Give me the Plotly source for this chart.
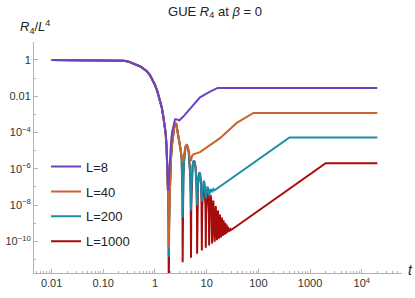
import plotly.graph_objects as go

# ---- data (t, log10 of R4/L^4) ----
early_points = [
    (0.01, 0), (0.02, 0), (0.05, 0), (0.1, -0.005), (0.15, -0.01), (0.2, -0.02),
    (0.25, -0.04), (0.3, -0.08), (0.375, -0.18), (0.45, -0.27), (0.52, -0.36),
    (0.586, -0.46), (0.7, -0.64), (0.8, -0.83), (0.9, -1.08), (1.0, -1.38),
    (1.12, -1.76), (1.25, -2.2), (1.36, -2.65), (1.45, -3.12), (1.54, -3.55),
    (1.61, -4.05), (1.67, -4.7), (1.72, -5.5),
]

L8_points = [
    (1.76, -6.3), (1.8, -7.2), (1.86, -6.5), (1.95, -5.4), (2.05, -4.5),
    (2.15, -3.95), (2.28, -3.55), (2.44, -3.27), (2.7, -3.28), (2.95, -3.34),
    (3.53, -3.12), (5.51, -2.48), (7.43, -2.06), (11.6, -1.75), (16.3, -1.54),
    (20000, -1.54),
]

L40_points = [
    (1.76, -6.3), (1.8, -7.6), (1.83, -9.0), (1.85, -10.36), (1.88, -9.0),
    (1.92, -7.6), (1.97, -6.5), (2.05, -5.3), (2.15, -4.6), (2.25, -4.1),
    (2.38, -3.65), (2.5, -3.47), (2.6, -3.55), (2.7, -3.86), (2.95, -4.41),
    (3.14, -4.96), (3.28, -5.42), (3.36, -5.58), (3.43, -5.62), (3.53, -5.5),
    (3.62, -5.3), (3.75, -5.0), (3.9, -4.76), (4.1, -4.65), (4.3, -4.76),
    (4.5, -5.0), (4.67, -5.35), (4.8, -5.5), (4.98, -5.55), (5.2, -5.3),
    (5.5, -5.2), (7.43, -5.08), (18.1, -4.31), (38.2, -3.47), (80, -2.92),
    (20000, -2.92),
]

L200_points = [
    (1.76, -6.3), (1.8, -7.6), (1.83, -9.0), (1.85, -10.85), (1.88, -9.0),
    (1.92, -7.6), (1.97, -6.5), (2.05, -5.3), (2.15, -4.6), (2.25, -4.1),
    (2.38, -3.65), (2.5, -3.47), (2.6, -3.55), (2.7, -3.86), (2.95, -4.41),
    (3.14, -4.96), (3.28, -5.42), (3.36, -6.3), (3.4, -7.5), (3.43, -8.7),
    (3.47, -7.5), (3.53, -6.5), (3.62, -5.7), (3.75, -5.1), (3.9, -4.8),
    (4.1, -4.68), (4.3, -4.8), (4.5, -5.1), (4.67, -5.6), (4.8, -6.3),
    (4.9, -7.3), (4.95, -7.95), (4.98, -8.3), (5.03, -7.75), (5.1, -6.95),
    (5.2, -6.3), (5.35, -5.85), (5.5, -5.62), (5.7, -5.55), (5.9, -5.65),
    (6.1, -5.95), (6.3, -6.55), (6.43, -7.3), (6.5, -7.8), (6.53, -8.0),
    (6.58, -7.9), (6.65, -7.45), (6.8, -6.75), (7.0, -6.33), (7.25, -6.18),
    (7.5, -6.33), (7.75, -6.75), (7.93, -7.4), (8.02, -7.7), (8.07, -7.8),
    (8.13, -7.7), (8.22, -7.45), (8.4, -7.0), (8.6, -6.75), (8.8, -6.65),
    (9.05, -6.8), (9.3, -7.15), (9.47, -7.5), (9.55, -7.6), (9.6, -7.62),
    (9.76, -7.55), (9.95, -7.3), (10.15, -7.05), (10.35, -6.97), (10.6, -7.06),
    (10.85, -7.29), (11.02, -7.45), (11.15, -7.48), (11.35, -7.41),
    (11.55, -7.27), (11.9, -7.11), (12.25, -7.19), (12.5, -7.27), (12.7, -7.28),
    (13.47, -7.11), (14.25, -7.18), (400, -4.27), (20000, -4.27),
]

L1000_points = [
    (1.76, -6.3), (1.8, -7.6), (1.83, -9.0), (1.85, -13.0), (1.88, -9.0),
    (1.92, -7.6), (1.97, -6.5), (2.05, -5.3), (2.15, -4.6), (2.25, -4.1),
    (2.38, -3.65), (2.5, -3.47), (2.6, -3.55), (2.7, -3.86), (2.95, -4.41),
    (3.14, -4.96), (3.28, -5.42), (3.36, -6.3), (3.4, -7.5), (3.43, -11.15),
    (3.47, -7.5), (3.53, -6.5), (3.62, -5.7), (3.75, -5.1), (3.9, -4.8),
    (4.1, -4.68), (4.3, -4.8), (4.5, -5.1), (4.67, -5.6), (4.8, -6.3),
    (4.9, -7.3), (4.95, -8.5), (4.98, -10.9), (5.03, -8.0), (5.1, -7.0),
    (5.2, -6.3), (5.35, -5.85), (5.5, -5.62), (5.7, -5.55), (5.9, -5.65),
    (6.1, -5.95), (6.3, -6.6), (6.43, -7.5), (6.5, -8.5), (6.53, -10.68),
    (6.58, -8.6), (6.65, -7.7), (6.8, -6.8), (7.0, -6.35), (7.25, -6.2),
    (7.5, -6.35), (7.75, -6.8), (7.93, -7.7), (8.02, -8.6), (8.07, -10.5),
    (8.13, -9.0), (8.22, -8.0), (8.4, -7.2), (8.6, -6.82), (8.8, -6.7),
    (9.05, -6.85), (9.3, -7.3), (9.47, -8.1), (9.55, -9.0), (9.6, -10.35),
    (9.66, -9.4), (9.76, -8.4), (9.95, -7.6), (10.15, -7.2), (10.35, -7.1),
    (10.6, -7.25), (10.85, -7.7), (11.02, -8.5), (11.1, -9.4), (11.15, -10.22),
    (11.22, -9.6), (11.35, -8.5), (11.55, -7.8), (11.9, -7.45), (12.25, -7.75),
    (12.5, -8.5), (12.64, -9.5), (12.7, -10.12), (13.47, -7.75), (14.25, -10.02),
    (15.02, -8.05), (15.8, -9.93), (16.57, -8.3), (17.35, -9.85), (18.12, -8.52),
    (18.9, -9.78), (19.67, -8.68), (20.45, -9.7), (21.22, -8.83), (22.0, -9.64),
    (22.77, -8.97), (23.55, -9.58), (24.32, -9.07), (25.1, -9.52), (25.87, -9.2),
    (26.65, -9.47), (27.42, -9.28), (28.2, -9.42), (28.97, -9.33), (29.75, -9.37),
    (2000, -5.69), (20000, -5.69),
]

series_names = ["L=8", "L=40", "L=200", "L=1000"]
series_colors = ["#6c44c0", "#c9652d", "#1b8ea6", "#a80b0b"]
series_points = [L8_points, L40_points, L200_points, L1000_points]

x_tickvals = [0.01, 0.1, 1, 10, 100, 1000, 10000]
x_ticktext = ["0.01", "0.10", "1", "10", "100", "1000", "10<sup>4</sup>"]
y_tickvals = [1, 1e-2, 1e-4, 1e-6, 1e-8, 1e-10]
y_ticktext = ["1", "0.01", "10<sup>\u22124</sup>", "10<sup>\u22126</sup>",
              "10<sup>\u22128</sup>", "10<sup>\u221210</sup>"]

FONT = "Liberation Sans, Arial, sans-serif"

fig = go.Figure()
# draw L=1000 first so that L=8 ends on top; legend ranked L=8 first
entries = list(zip(series_names, series_colors, series_points))
for rank, (name, color, pts) in reversed(list(enumerate(entries))):
    allpts = early_points + pts
    t = [p[0] for p in allpts]
    y = [10 ** p[1] for p in allpts]
    fig.add_trace(go.Scatter(x=t, y=y, mode="lines", name=name, legendgroup=name,
                             legendrank=rank + 1, line=dict(color=color, width=2)))

axis_color = "#b3b3b3"
fig.update_xaxes(type="log", range=[-2.34, 4.778], tickvals=x_tickvals, ticktext=x_ticktext,
                 automargin=False,
                 showgrid=False, zeroline=False, showline=True, linecolor=axis_color,
                 linewidth=1, ticks="inside", ticklen=4, tickcolor=axis_color,
                 tickfont=dict(family=FONT, size=11, color="#333"),
                 minor=dict(ticks="inside", ticklen=2, tickcolor=axis_color, dtick="D1",
                            showgrid=False))
fig.update_yaxes(type="log", range=[-11.74, 0.99], tickvals=y_tickvals, ticktext=y_ticktext,
                 automargin=False,
                 showgrid=False, zeroline=False, showline=True, linecolor=axis_color,
                 linewidth=1, ticks="inside", ticklen=4, tickcolor=axis_color,
                 tickfont=dict(family=FONT, size=11, color="#333"),
                 minor=dict(ticks="inside", ticklen=2, tickcolor=axis_color, dtick=1,
                            showgrid=False))

fig.update_layout(
    width=415, height=298,
    margin=dict(l=34, r=13, t=42, b=25, autoexpand=False),
    paper_bgcolor="white", plot_bgcolor="white",
    hovermode=False,
    font=dict(family=FONT, color="#222"),
    title=dict(text="GUE <i>R</i><sub>4</sub> at <i>\u03b2</i> = 0", x=0.518, xref="container",
               y=0.963, yref="container", xanchor="center", yanchor="middle",
               font=dict(family=FONT, size=13, color="#222")),
    legend=dict(x=0.0327, y=0.5255, xanchor="left", yanchor="top", traceorder="grouped",
                tracegroupgap=5, font=dict(family=FONT, size=13, color="#222"),
                bgcolor="rgba(0,0,0,0)"),
    showlegend=True,
    annotations=[
        dict(text="<i>R</i><sub>4</sub>/<i>L</i><sup>4</sup>", xref="paper", yref="paper",
             x=0.003, y=1.065, xanchor="center", yanchor="middle", showarrow=False,
             font=dict(family=FONT, size=13, color="#222")),
        dict(text="<i>t</i>", xref="paper", yref="paper", x=1.024, y=0.013,
             xanchor="center", yanchor="middle", showarrow=False,
             font=dict(family=FONT, size=14, color="#222")),
    ],
)

fig.write_html("out.html", config={"displayModeBar": False, "staticPlot": True},
               post_script="document.body.style.margin='0px';")
